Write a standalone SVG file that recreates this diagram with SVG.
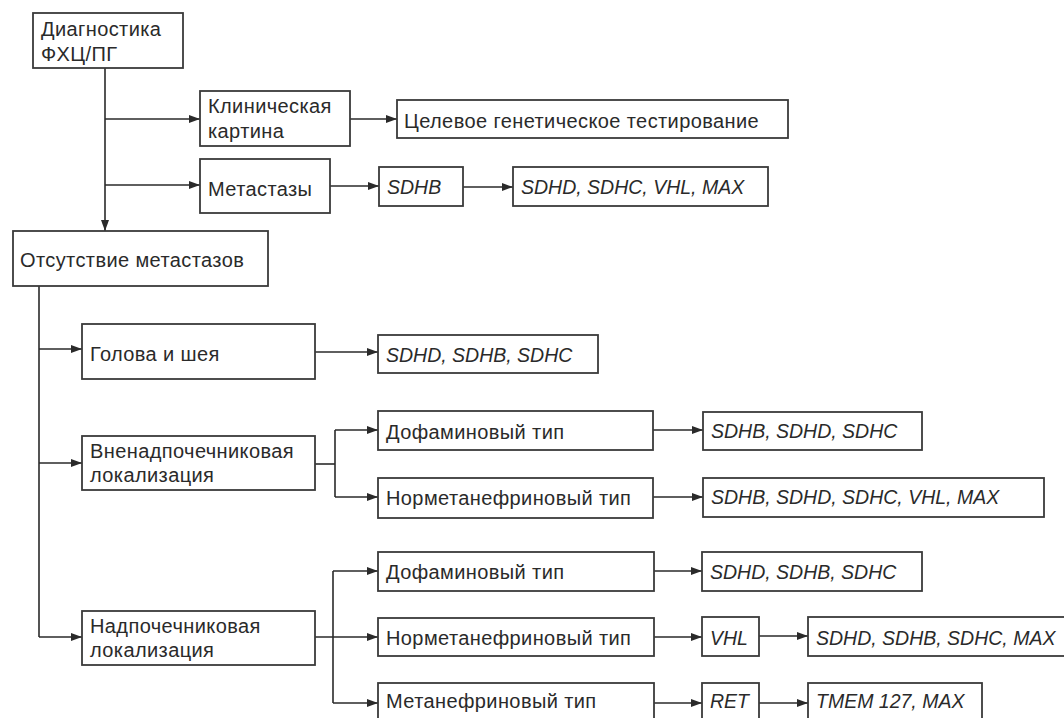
<svg xmlns="http://www.w3.org/2000/svg" width="1064" height="718" viewBox="0 0 1064 718">
<defs>
<marker id="ah" markerUnits="userSpaceOnUse" markerWidth="12" markerHeight="10" refX="11" refY="5" orient="auto">
<path d="M0,1 L11,5 L0,9 Z" fill="#2a2a2a"/>
</marker>
<style>
.b{fill:#fff;stroke:#3a3a3a;stroke-width:1.8}
.t{font-family:"Liberation Sans",Arial,sans-serif;font-size:20px;letter-spacing:0.4px;fill:#2a2a2a}
.i{font-style:italic;font-size:19.5px;letter-spacing:0}
.c path{fill:none;stroke:#2a2a2a;stroke-width:1.6}
</style>
</defs>
<rect width="1064" height="718" fill="#fff"/>
<g class="c" id="connectors">
<path d="M105,68 V231" marker-end="url(#ah)"/>
<path d="M105,119 H200" marker-end="url(#ah)"/>
<path d="M105,185 H200" marker-end="url(#ah)"/>
<path d="M350,119 H397" marker-end="url(#ah)"/>
<path d="M330,186 H379" marker-end="url(#ah)"/>
<path d="M463,187 H513" marker-end="url(#ah)"/>
<path d="M39,286 V637"/>
<path d="M39,349 H82" marker-end="url(#ah)"/>
<path d="M39,463 H82" marker-end="url(#ah)"/>
<path d="M39,637 H82" marker-end="url(#ah)"/>
<path d="M315,352 H378" marker-end="url(#ah)"/>
<path d="M315,464 H335"/>
<path d="M335,430 V497"/>
<path d="M335,430 H378" marker-end="url(#ah)"/>
<path d="M335,497 H378" marker-end="url(#ah)"/>
<path d="M653,430 H703" marker-end="url(#ah)"/>
<path d="M653,497 H703" marker-end="url(#ah)"/>
<path d="M315,637 H378" marker-end="url(#ah)"/>
<path d="M333,571 V703"/>
<path d="M333,571 H378" marker-end="url(#ah)"/>
<path d="M333,703 H378" marker-end="url(#ah)"/>
<path d="M654,571 H702" marker-end="url(#ah)"/>
<path d="M654,637 H702" marker-end="url(#ah)"/>
<path d="M654,703 H702" marker-end="url(#ah)"/>
<path d="M759,636 H808" marker-end="url(#ah)"/>
<path d="M759,703 H808" marker-end="url(#ah)"/>
</g>
<g id="diag"><rect class="b" x="33" y="13" width="150" height="55"/><text class="t" x="41" y="36">Диагностика</text><text class="t" x="41" y="61">ФХЦ/ПГ</text></g>
<g id="klin"><rect class="b" x="200" y="91" width="150" height="55"/><text class="t" x="208" y="113">Клиническая</text><text class="t" x="208" y="138">картина</text></g>
<g id="meta"><rect class="b" x="200" y="159" width="130" height="54"/><text class="t" x="208" y="196">Метастазы</text></g>
<g id="otsut"><rect class="b" x="13" y="231" width="255" height="55"/><text class="t" x="20" y="267">Отсутствие метастазов</text></g>
<g id="celevoe"><rect class="b" x="397" y="100" width="391" height="38"/><text class="t" x="404" y="128">Целевое генетическое тестирование</text></g>
<g id="sdhb"><rect class="b" x="379" y="167" width="84" height="39"/><text class="t i" x="387" y="194">SDHB</text></g>
<g id="gen1"><rect class="b" x="513" y="167" width="255" height="39"/><text class="t i" x="521" y="194">SDHD, SDHC, VHL, MAX</text></g>
<g id="golova"><rect class="b" x="82" y="324" width="233" height="55"/><text class="t" x="90" y="361">Голова и шея</text></g>
<g id="gen2"><rect class="b" x="378" y="335" width="220" height="38"/><text class="t i" x="386" y="362">SDHD, SDHB, SDHC</text></g>
<g id="vnenad"><rect class="b" x="82" y="436" width="233" height="54"/><text class="t" x="90" y="458">Вненадпочечниковая</text><text class="t" x="90" y="482">локализация</text></g>
<g id="dofa1"><rect class="b" x="378" y="411" width="275" height="39"/><text class="t" x="386" y="439">Дофаминовый тип</text></g>
<g id="norm1"><rect class="b" x="378" y="478" width="275" height="40"/><text class="t" x="386" y="505">Норметанефриновый тип</text></g>
<g id="gen3"><rect class="b" x="703" y="412" width="219" height="38"/><text class="t i" x="711" y="438">SDHB, SDHD, SDHC</text></g>
<g id="gen4"><rect class="b" x="703" y="478" width="341" height="39"/><text class="t i" x="711" y="504">SDHB, SDHD, SDHC, VHL, MAX</text></g>
<g id="nadp"><rect class="b" x="82" y="611" width="233" height="54"/><text class="t" x="90" y="633">Надпочечниковая</text><text class="t" x="90" y="657">локализация</text></g>
<g id="dofa2"><rect class="b" x="378" y="552" width="276" height="39"/><text class="t" x="386" y="579">Дофаминовый тип</text></g>
<g id="norm2"><rect class="b" x="378" y="618" width="276" height="38"/><text class="t" x="386" y="645">Норметанефриновый тип</text></g>
<g id="metan"><rect class="b" x="378" y="683" width="276" height="50"/><text class="t" x="386" y="708">Метанефриновый тип</text></g>
<g id="gen5"><rect class="b" x="702" y="552" width="220" height="39"/><text class="t i" x="710" y="579">SDHD, SDHB, SDHC</text></g>
<g id="vhl"><rect class="b" x="702" y="617" width="57" height="39"/><text class="t i" x="710" y="645">VHL</text></g>
<g id="ret"><rect class="b" x="702" y="683" width="57" height="50"/><text class="t i" x="710" y="708">RET</text></g>
<g id="gen6"><rect class="b" x="808" y="617" width="270" height="39"/><text class="t i" x="816" y="645">SDHD, SDHB, SDHC, MAX</text></g>
<g id="tmem"><rect class="b" x="808" y="683" width="174" height="50"/><text class="t i" x="816" y="708">TMEM 127, MAX</text></g>
</svg>
